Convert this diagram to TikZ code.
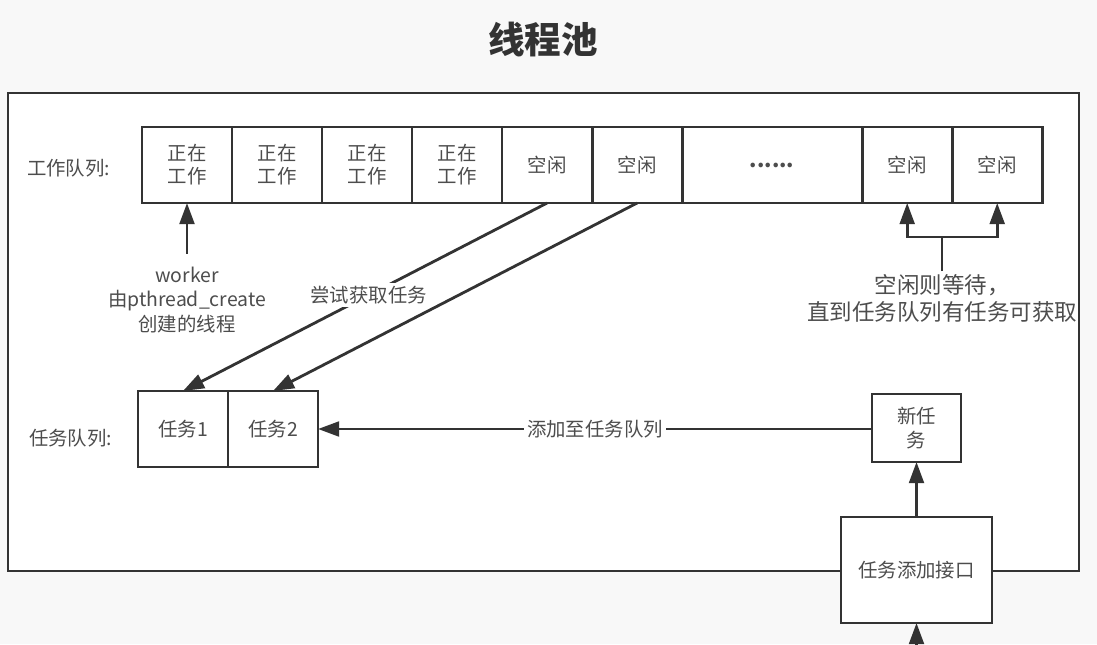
\documentclass[tikz,border=0pt]{standalone}
\usepackage{fontspec}
\setmainfont{Noto Sans CJK SC}
\usetikzlibrary{arrows.meta,positioning}
\definecolor{ink}{HTML}{333333}
\definecolor{txtgray}{HTML}{4D4D4D}
\definecolor{paper}{HTML}{F8F8F8}
\tikzset{
  cellbox/.style={rectangle, draw=ink, fill=white, line width=2pt,
    minimum width=#1, minimum height=1.9cm, outer sep=0pt,
    text=txtgray, font=\fontsize{13.8}{16.5}\selectfont,
    align=center, inner sep=2pt},
  cellbox/.default=2.25cm,
  plainlabel/.style={text=txtgray, font=\fontsize{13.8}{17.7}\selectfont,
    align=center, inner sep=2pt},
  dataarrow/.style={
    -{Triangle[length=15pt, width=10.5pt]}, line width=2pt, color=ink
  },
  framebox/.style={draw=ink, fill=white, line width=2pt},
}

\begin{document}
\begin{tikzpicture}[x=0.025cm, y=-0.025cm]
\useasboundingbox[fill=paper] (0,0) rectangle (1097,644);
\node[font=\fontsize{26}{30}\selectfont\bfseries, text=ink] (title) at (543,40) {线程池};
\draw[framebox] (8,93) rectangle (1079,571);

% work queue
\node[plainlabel, anchor=west] (wqlabel) at (24,168) {工作队列:};
\node[cellbox] (w1) at (187,165) {正在\\工作};
\node[cellbox, right=0pt of w1] (w2) {正在\\工作};
\node[cellbox, right=0pt of w2] (w3) {正在\\工作};
\node[cellbox, right=0pt of w3] (w4) {正在\\工作};
\node[cellbox, right=0pt of w4] (w5) {空闲};
\node[cellbox, right=0pt of w5] (w6) {空闲};
\node[cellbox=4.5cm, right=0pt of w6, font=\fontsize{15}{17}\selectfont\bfseries] (wdots) {......};
\node[cellbox, right=0pt of wdots] (w8) {空闲};
\node[cellbox, right=0pt of w8] (w9) {空闲};

\node[plainlabel, inner ysep=9pt] (worker) at (187,300)
  {worker\\由pthread\_create\\创建的线程};
\draw[dataarrow] (worker) -- (w1.south);

% idle workers wait
\node[plainlabel, anchor=north, font=\fontsize{16}{19.5}\selectfont] (waittxt) at (942,271)
  {空闲则等待，\\直到任务队列有任务可获取};
\coordinate (fork) at (942,237);
\draw[line width=2pt, color=ink] (waittxt) -- (fork);
\draw[dataarrow] (fork) -| (w8.south);
\draw[dataarrow] (fork) -| (w9.south);

% task queue
\node[plainlabel, anchor=west] (tqlabel) at (26,438) {任务队列:};
\node[cellbox] (t1) at (183,429) {任务1};
\node[cellbox, right=0pt of t1] (t2) {任务2};

\draw[dataarrow] (w5.south) -- (t1.north)
  node[plainlabel, pos=0.49, fill=white] (trylabel) {尝试获取任务};
\draw[dataarrow] (w6.south) -- (t2.north);

% new task and interface
\node[cellbox=2.225cm, minimum height=1.7cm] (newtask) at (916.5,428) {新任\\务};
\node[cellbox=3.775cm, minimum height=2.65cm] (api) at (916.5,570) {任务添加接口};
\coordinate (apiin) at (916.5,690);

\draw[dataarrow] (newtask.west |- t2.east) -- (t2.east)
  node[plainlabel, midway, fill=white] (addlabel) {添加至任务队列};
\draw[dataarrow] (api) -- (newtask);
\draw[dataarrow] (apiin) -- (api.south);
\end{tikzpicture}
\end{document}
